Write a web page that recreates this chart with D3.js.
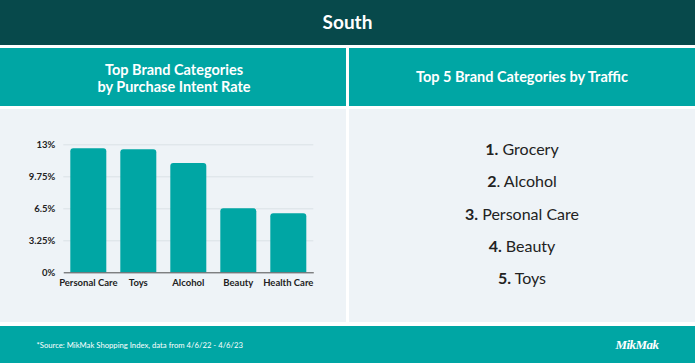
<!DOCTYPE html>
<html><head><meta charset="utf-8">
<script src="https://cdn.jsdelivr.net/npm/d3@7"></script>
<style>body{margin:0;background:#fff}svg{display:block}</style>
</head><body>
<svg id="c" width="695" height="363"></svg>
<script>
const title = "South";
const leftHeader = ["Top Brand Categories", "by Purchase Intent Rate"];
const rightHeader = "Top 5 Brand Categories by Traffic";
const categories = ["Personal Care", "Toys", "Alcohol", "Beauty", "Health Care"];
const intentRates = [12.6, 12.5, 11.1, 6.5, 6.0];
const yTicks = [0, 3.25, 6.5, 9.75, 13];
const yTickLabels = ["0%", "3.25%", "6.5%", "9.75%", "13%"];
const trafficRanks = ["1.", "2", "3.", "4.", "5."];
const trafficRankSuffix = ["", ".", "", "", ""];
const trafficCategories = ["Grocery", "Alcohol", "Personal Care", "Beauty", "Toys"];
const footnote = "*Source: MikMak Shopping Index, data from 4/6/22 - 4/6/23";

const svg = d3.select("#c");
const DARK = "#07494b", TEAL = "#00a6a4", PANEL = "#eef3f7", TXT = "#222";

svg.append("rect").attr("width",695).attr("height",363).attr("fill","#fff");
svg.append("rect").attr("x",0).attr("y",0).attr("width",695).attr("height",45).attr("fill",DARK);
svg.append("rect").attr("x",0).attr("y",48).attr("width",346).attr("height",58).attr("fill",TEAL);
svg.append("rect").attr("x",349).attr("y",48).attr("width",346).attr("height",58).attr("fill",TEAL);
svg.append("rect").attr("x",0).attr("y",109).attr("width",346).attr("height",213).attr("fill",PANEL);
svg.append("rect").attr("x",349).attr("y",109).attr("width",346).attr("height",213).attr("fill",PANEL);
svg.append("rect").attr("x",0).attr("y",326).attr("width",695).attr("height",37).attr("fill",TEAL);

svg.append("text").attr("x",347.5).attr("y",29).attr("text-anchor","middle")
  .attr("font-family","Lato, sans-serif").attr("font-weight",700).attr("font-size",19)
  .attr("fill","#fff").text(title);

svg.append("text").attr("text-anchor","middle").attr("font-family","Lato, sans-serif")
  .attr("font-weight",700).attr("font-size",14.5).attr("fill","#fff")
  .selectAll("tspan").data(leftHeader).join("tspan")
  .attr("x",174).attr("y",(d,i)=>75+i*16.5).text(d=>d);

svg.append("text").attr("x",522).attr("y",82).attr("text-anchor","middle")
  .attr("font-family","Lato, sans-serif").attr("font-weight",700).attr("font-size",14.5)
  .attr("fill","#fff").text(rightHeader);

// bar chart
const x = d3.scaleBand().domain(categories).range([63.3,313.3]).paddingInner(0.28).paddingOuter(0.14);
const y = d3.scaleLinear().domain([0,13]).range([272.3,144.3]);
const g = svg.append("g");

g.append("g").attr("transform","translate(63.3,0)")
  .call(d3.axisLeft(y).tickValues(yTicks).tickSize(-250).tickFormat((d,i)=>yTickLabels[i]))
  .call(a=>{a.select(".domain").remove();
    a.selectAll(".tick line").attr("stroke","#dbe1e6").attr("stroke-width",1);
    a.selectAll(".tick text").attr("x",-8).attr("fill",TXT)
     .attr("font-family","Lato, sans-serif").attr("font-weight",700).attr("font-size",9.5);});

g.selectAll("path.bar").data(intentRates).join("path").attr("class","bar")
  .attr("fill",TEAL)
  .attr("d",(d,i)=>{const x0=x(categories[i]),w=x.bandwidth(),y0=y(d),y1=y(0),r=3;
    return `M${x0},${y1}V${y0+r}Q${x0},${y0} ${x0+r},${y0}H${x0+w-r}Q${x0+w},${y0} ${x0+w},${y0+r}V${y1}Z`;});

g.append("g").attr("transform","translate(0,272.3)")
  .call(d3.axisBottom(x).tickSize(0).tickPadding(7))
  .call(a=>{a.select(".domain").attr("stroke","#555").attr("stroke-width",1);
    a.selectAll(".tick text").attr("fill",TXT)
     .attr("font-family","Lato, sans-serif").attr("font-weight",700).attr("font-size",9.5);});

// right list
const list = svg.append("g");
trafficCategories.forEach((c,i)=>{
  const t = list.append("text").attr("x",522).attr("y",155+i*32.3).attr("text-anchor","middle")
    .attr("font-family","Lato, sans-serif").attr("font-size",16).attr("fill",TXT);
  t.append("tspan").attr("font-weight",700).text(trafficRanks[i]);
  t.append("tspan").text(trafficRankSuffix[i]+" "+c);
});

svg.append("text").attr("x",36.5).attr("y",348).attr("font-family","Lato, sans-serif")
  .attr("font-size",7.7).attr("fill","#fff").text(footnote);
svg.append("text").attr("x",637).attr("y",349).attr("text-anchor","middle")
  .attr("font-family","Liberation Serif, serif").attr("font-style","italic").attr("font-weight",700)
  .attr("font-size",13).attr("letter-spacing",-0.5).attr("fill","#fff").text("MikMak");
</script>
</body></html>
